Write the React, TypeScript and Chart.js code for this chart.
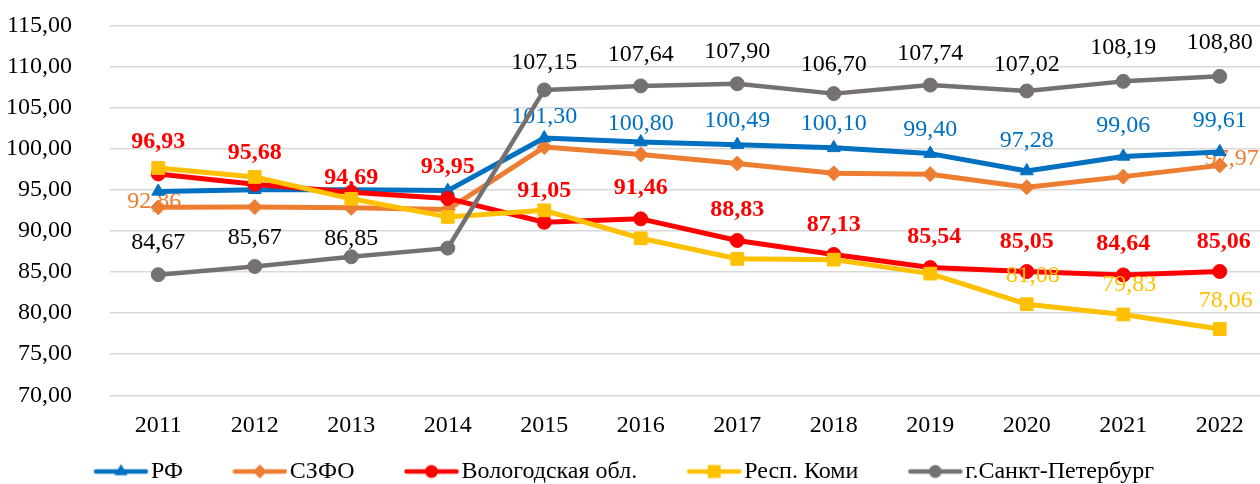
import React, { useEffect, useRef } from 'react';
import { Chart, registerables } from 'chart.js';

Chart.register(...registerables);

const FONT = "'Liberation Serif', 'Times New Roman', serif";
const FS = 24;

const years = ['2011', '2012', '2013', '2014', '2015', '2016', '2017', '2018', '2019', '2020', '2021', '2022'];
const seriesNames = ['РФ', 'СЗФО', 'Вологодская обл.', 'Респ. Коми', 'г.Санкт-Петербург'];

const rf = [94.8, 95.0, 95.0, 94.9, 101.3, 100.8, 100.49, 100.1, 99.4, 97.28, 99.06, 99.61];
const szfo = [92.86, 92.9, 92.8, 92.6, 100.2, 99.3, 98.2, 97.0, 96.9, 95.3, 96.6, 97.97];
const vologda = [96.93, 95.68, 94.69, 93.95, 91.05, 91.46, 88.83, 87.13, 85.54, 85.05, 84.64, 85.06];
const komi = [97.65, 96.56, 93.9, 91.7, 92.5, 89.1, 86.6, 86.5, 84.8, 81.08, 79.83, 78.06];
const spb = [84.67, 85.67, 86.85, 87.9, 107.15, 107.64, 107.9, 106.7, 107.74, 107.02, 108.19, 108.8];

const yMin = 70;
const yMax = 115;
const yStep = 5;

const colors = ['#0070C0', '#ED7D31', '#FF0000', '#FFC000', '#767171'];
const labelColors = ['#0070C0', '#ED7D31', '#FF0000', '#FFC000', '#000000'];
const labelBold = [false, false, true, false, false];
const pointStyles = ['triangle', 'rectRot', 'circle', 'rect', 'circle'];
const pointRadii = [7.5, 7.5, 7, 9, 7];
const drawOrder = [3, 4, 2, 1, 0];

// vertical / horizontal offsets of value labels from their points (null = no label)
const N = null;
const labelDy = [
  [N, N, N, N, -21, -18, -24, -24, -24, -30, -31, -31],
  [-6, N, N, N, N, N, N, N, N, N, N, -7],
  [-32, -31, -15, -31.5, -31, -31, -30.5, -29.5, -31, -30, -31.5, -30],
  [N, N, N, N, N, N, N, N, N, -28, -29.5, -28],
  [-32, -29, -18, N, -27, -31, -32, -29, -31, -26, -34, -34],
];
const labelDx = [
  [0, 0, 0, 0, 0, 0, 0, 0, 0, 0, 0, 0],
  [-4, 0, 0, 0, 0, 0, 0, 0, 0, 0, 0, 12],
  [0, 0, 0, 0, 0, 0, 0, 0, 4, 0, 0, 4],
  [0, 0, 0, 0, 0, 0, 0, 0, 0, 6, 6, 6],
  [0, 0, 0, 0, 0, 0, 0, 0, 0, 0, 0, 0],
];

const fmt = (v: number) => v.toFixed(2).replace('.', ',');

const BOXW = 85;

function makeIcon(color: string, style: string): HTMLCanvasElement {
  const W = BOXW + 19;
  const H = 20;
  const c = document.createElement('canvas');
  c.width = W;
  c.height = H;
  const g = c.getContext('2d')!;
  const cy = H / 2;
  const x0 = W - 55;
  g.strokeStyle = color;
  g.fillStyle = color;
  g.lineWidth = 4.5;
  g.lineCap = 'round';
  g.beginPath();
  g.moveTo(x0 + 2.5, cy);
  g.lineTo(W - 2.5, cy);
  g.stroke();
  const cx = W - 27.5;
  g.beginPath();
  if (style === 'triangle') {
    const r = 7.5;
    g.moveTo(cx, cy - r);
    g.lineTo(cx + r * 0.866, cy + r / 2);
    g.lineTo(cx - r * 0.866, cy + r / 2);
    g.closePath();
  } else if (style === 'rectRot') {
    const r = 7;
    g.moveTo(cx, cy - r);
    g.lineTo(cx + r, cy);
    g.lineTo(cx, cy + r);
    g.lineTo(cx - r, cy);
    g.closePath();
  } else if (style === 'rect') {
    g.rect(cx - 6.5, cy - 6.5, 13, 13);
  } else {
    g.arc(cx, cy, 6.5, 0, Math.PI * 2);
  }
  g.fill();
  return c;
}

const valueLabels = {
  id: 'valueLabels',
  afterDatasetDraw(chart: any, args: any) {
    const i = args.index;
    const ds = chart.data.datasets[i];
    const meta = args.meta;
    const ctx = chart.ctx;
    ctx.save();
    ctx.font = `${labelBold[i] ? 'bold ' : ''}${FS}px ${FONT}`;
    ctx.fillStyle = labelColors[i];
    ctx.textAlign = 'center';
    ctx.textBaseline = 'middle';
    meta.data.forEach((pt: any, j: number) => {
      const dy = labelDy[i][j];
      if (dy === null || dy === undefined) return;
      ctx.fillText(fmt(ds.data[j]), pt.x + (labelDx[i][j] || 0), pt.y + dy);
    });
    ctx.restore();
  },
};

const legendShift = {
  id: 'legendShift',
  afterLayout(chart: any) {
    const lg = chart.legend;
    if (lg) {
      lg.left -= 34;
      lg.right -= 34;
    }
  },
};

export default function App() {
  const ref = useRef<HTMLCanvasElement | null>(null);

  useEffect(() => {
    if (!ref.current) return;
    const series = [rf, szfo, vologda, komi, spb];
    const icons = colors.map((c, i) => makeIcon(c, pointStyles[i]));
    const chart = new Chart(ref.current, {
      type: 'line',
      data: {
        labels: years,
        datasets: series.map((d, i) => ({
          label: seriesNames[i],
          data: d,
          borderColor: colors[i],
          backgroundColor: colors[i],
          borderWidth: i === 4 ? 4.5 : 5,
          borderJoinStyle: 'round' as const,
          borderCapStyle: 'round' as const,
          pointStyle: pointStyles[i] as any,
          pointRadius: pointRadii[i],
          pointHoverRadius: pointRadii[i],
          pointBorderColor: colors[i],
          pointBackgroundColor: colors[i],
          pointBorderWidth: 1,
          tension: 0,
          fill: false,
          order: drawOrder[i],
        })),
      },
      options: {
        responsive: false,
        animation: false,
        events: [],
        layout: { padding: { left: 8, right: 12, top: 0, bottom: 6.5 } },
        scales: {
          x: {
            offset: true,
            grid: { display: false, drawTicks: false, offset: true },
            border: { display: false },
            ticks: { padding: 16, color: '#000', font: { family: FONT, size: FS } },
            afterFit: (s: any) => {
              s.height = 54.25;
            },
          },
          y: {
            min: yMin,
            max: yMax,
            ticks: {
              stepSize: yStep,
              padding: 38,
              color: '#000',
              font: { family: FONT, size: FS },
              callback: (v: any) => fmt(Number(v)),
            },
            grid: { color: '#d9d9d9', lineWidth: 1.5, drawTicks: false },
            border: { display: false },
            afterFit: (s: any) => {
              s.width = 102;
            },
          },
        },
        plugins: {
          tooltip: { enabled: false },
          title: { display: false },
          legend: {
            display: true,
            position: 'bottom',
            labels: {
              usePointStyle: true,
              pointStyleWidth: BOXW,
              padding: 10,
              color: '#000',
              font: { family: FONT, size: FS },
              generateLabels: (ch: any) =>
                ch.data.datasets.map((ds: any, i: number) => ({
                  text: ds.label,
                  fillStyle: colors[i],
                  strokeStyle: colors[i],
                  lineWidth: 0,
                  pointStyle: icons[i],
                  hidden: false,
                  datasetIndex: i,
                  fontColor: '#000',
                })),
            },
          },
        },
      },
      plugins: [valueLabels, legendShift],
    });
    return () => chart.destroy();
  }, []);

  return (
    <div
      style={{
        position: 'absolute',
        left: 0,
        top: 0,
        width: 1260,
        height: 484,
        overflow: 'hidden',
        background: '#fff',
      }}
    >
      <canvas ref={ref} width={1280} height={527} style={{ display: 'block', marginTop: -27 }} />
    </div>
  );
}
